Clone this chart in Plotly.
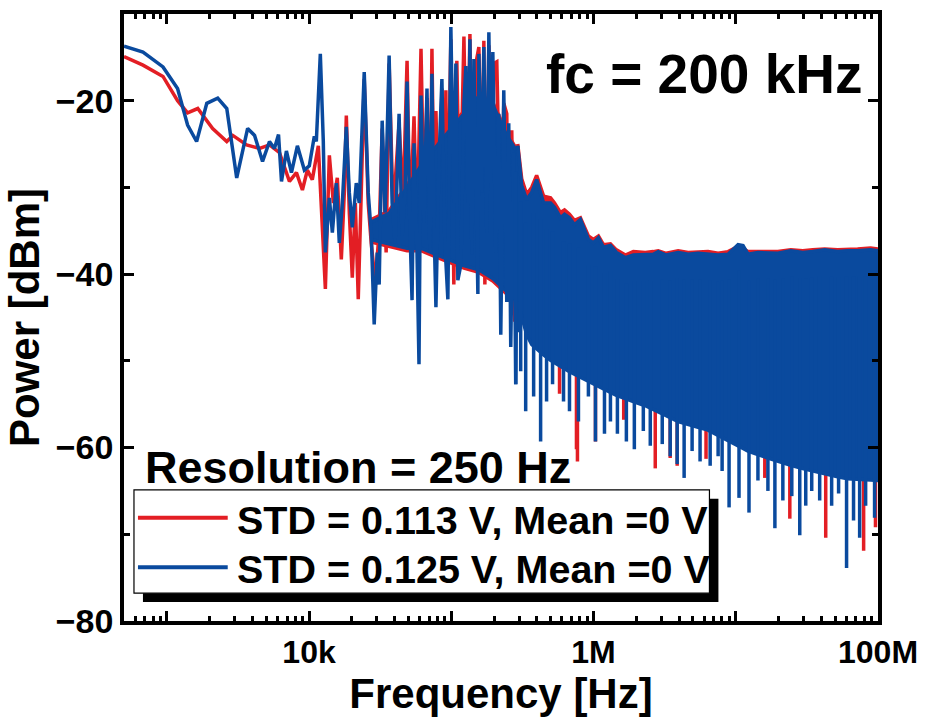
import numpy as np
import plotly.graph_objects as go

# ---------------- data ----------------
# Blue series: STD = 0.125 V, low/mid-frequency line (Hz, dBm)
blue_line_f = [500, 680, 940, 1190, 1400, 1620, 1910, 2280, 2640, 3100, 3700, 4140, 4710,
               5270, 5710, 6100, 6400, 6930, 7520, 8280, 9270, 10040, 10890, 11250,
               12000, 12590, 13020, 13890, 14580, 15560, 16320, 17140, 18280, 19190, 20140,
               21480, 22540, 24430, 26060, 27350, 28710, 30130, 31120, 32660, 34280, 36560,
               38370, 40270, 42950, 45080, 47320, 48870, 51290, 52970, 54700, 57410, 59290,
               61240, 64270, 67450, 70790, 73110, 75510, 77980, 81840, 85900, 90160, 94620,
               99300, 104200, 107700, 111200, 116900, 122700, 126700, 130900, 135200, 139600,
               144200, 148900, 153800, 156300, 164100, 169400, 177800, 183700, 189700, 195900,
               205600, 215800, 222800, 233900, 245500, 253500, 261800, 274800, 283800, 293100,
               302700]
blue_line_p = [-13.7, -14.4, -16.1, -18.6, -22.8, -24.7, -20.3, -19.7, -20.9, -28.9, -23.2, -24.0, -27.0,
               -24.7, -25.5, -23.9, -29.3, -25.8, -28.3, -25.2, -28.0, -27.5, -24.1, -24.7,
               -14.6, -24.6, -37.5, -31.2, -35.2, -29.5, -36.4, -31.8, -23.0, -30.6, -34.6,
               -29.5, -31.8, -16.7, -30.6, -35.2, -45.8, -37.5, -41.2, -22.3, -32.9, -14.8,
               -31.8, -36.4, -21.5, -35.6, -30.6, -17.8, -35.2, -43.0, -24.9, -37.5, -50.4,
               -19.4, -34.1, -18.6, -37.5, -16.9, -34.1, -43.8, -27.2, -17.5, -36.4, -42.9,
               -11.5, -31.8, -15.7, -40.7, -38.9, -20.3, -16.0, -31.8, -12.9, -37.7,
               -15.2, -31.8, -42.3, -14.6, -30.6, -13.8, -35.2, -12.1, -29.5, -14.4,
               -37.5, -21.5, -47.0, -18.8, -43.2, -22.6, -48.4, -26.0, -52.7, -25.2,
               -46.7]

# Blue dense core between 27 kHz and 290 kHz (upper / lower edge of the solid part)
blue_core_f = [27350, 36560, 48870, 61240, 85900, 122700, 156300, 195900, 245500, 293100]
blue_core_top = [-34.0, -33.0, -30.0, -27.5, -24.5, -21.5, -19.5, -20.5, -24.0, -26.0]
blue_core_low = [-36.0, -36.5, -37.0, -37.0, -38.0, -39.0, -39.5, -40.5, -42.0, -43.2]

# Blue dense band above ~290 kHz: upper envelope and solid lower edge
blue_band_f = [293100, 312600, 338800, 367300, 398100, 445700, 498900, 532100, 586100, 625200,
               677600, 734500, 809100, 863000, 920500, 997700, 1.083e6, 1.175e6, 1.315e6, 1.449e6,
               1.675e6, 1.905e6, 2.312e6, 2.630e6, 2.851e6, 3.243e6, 3.936e6, 4.624e6, 5.433e6,
               6.383e6, 7.516e6, 8.831e6, 1.038e7, 1.125e7, 1.219e7, 1.432e7, 1.683e7, 1.977e7,
               2.438e7, 2.958e7, 3.475e7, 4.217e7, 5.200e7, 6.109e7, 7.194e7, 8.872e7, 1e8]
blue_band_top = [-25.2, -29.8, -31.4, -30.6, -29.1, -31.8, -31.8, -32.3, -33.5, -33.1,
                 -33.5, -34.3, -33.7, -35.0, -36.0, -36.4, -35.8, -36.9, -36.7, -37.5,
                 -38.1, -37.8, -37.8, -37.7, -37.4, -37.8, -37.5, -37.7, -37.6,
                 -37.7, -37.8, -37.7, -36.6, -36.7, -37.7, -37.5, -37.5, -37.6,
                 -37.3, -37.5, -37.4, -37.2, -37.4, -37.3, -37.3, -37.2, -37.3]
blue_band_low_f = [293100, 349900, 483100, 666800, 920500, 1.496e6, 2.427e6, 3.936e6, 6.714e6,
                   1.219e7, 1.977e7, 3.365e7, 6.109e7, 1e8]
blue_band_low = [-43.2, -47.8, -49.8, -51.2, -52.4, -54.1, -55.3, -57.0, -58.1,
                 -60.4, -61.6, -62.7, -63.6, -63.8]
# Blue deep dips below the band
blue_dip_f = [283800, 307600, 333400, 379300, 424600, 467700, 515200, 615200, 677600, 783400,
              920500, 1.032e6, 1.194e6, 1.315e6, 1.472e6, 1.702e6, 1.936e6, 2.239e6, 2.506e6,
              3.041e6, 3.459e6, 3.873e6, 4.335e6, 4.932e6, 5.610e6, 6.607e6, 7.516e6, 8.017e6,
              8.974e6, 1.054e7, 1.239e7, 1.432e7, 1.683e7, 1.884e7, 2.143e7, 2.477e7, 2.818e7,
              3.105e7, 3.420e7, 3.890e7, 4.721e7, 5.284e7, 6.012e7, 6.730e7, 7.430e7, 8.185e7,
              9.462e7]
blue_dip_p = [-52.7, -51.2, -55.8, -54.1, -59.3, -54.7, -52.7, -54.7, -55.8, -57.0,
              -54.1, -59.3, -58.4, -57.0, -58.4, -59.3, -60.2, -58.1, -59.8,
              -59.6, -61.0, -61.9, -63.5, -60.4, -61.6, -62.1, -61.0, -62.7,
              -66.9, -65.8, -67.5, -63.8, -65.0, -69.3, -66.1, -65.6, -70.1,
              -66.7, -65.0, -66.1, -66.7, -65.3, -73.9, -68.4, -70.4, -66.7,
              -68.1]

# Red series: STD = 0.113 V
red_line_f = [500, 680, 940, 1190, 1400, 1650, 2100, 2640, 2910, 3640, 4490, 5270, 6200, 7280,
              8150, 8980, 9730, 10540, 11620, 12190, 13020, 13890, 14820, 15800, 16860, 17700,
              18280, 19190, 20140, 21150, 22180, 23280, 24430, 26060, 27350, 29170, 31120,
              32660, 34830, 36560, 38990, 42950, 45810, 48870, 51290, 54700, 57410, 61240,
              64270, 67450, 70790, 73110, 75510, 77980, 81840, 85900, 88720, 91620, 93110,
              99300, 104200, 109400, 114800, 122700, 128800, 135200, 141900, 148900, 156300,
              164100, 169400, 172200, 183700, 192800, 199100, 208900, 222800, 233900, 245500,
              253500, 266100, 279300, 293100]
red_line_p = [-14.9, -15.9, -17.2, -20.0, -21.4, -20.9, -23.2, -24.7, -24.0, -25.1, -25.5, -25.1, -26.0, -29.3,
              -28.3, -30.3, -28.0, -29.1, -25.2, -31.8, -41.7, -26.3, -31.8, -28.9, -38.3, -30.6,
              -21.7, -32.9, -40.4, -31.8, -42.9, -30.6, -17.5, -31.8, -36.4, -40.9, -35.2,
              -23.2, -37.5, -15.7, -32.9, -22.6, -31.8, -15.4, -34.1, -21.8, -35.2, -14.0,
              -31.8, -19.7, -35.2, -14.0, -31.8, -21.2, -35.2, -18.6, -36.4, -18.8, -38.4,
              -12.9, -41.2, -15.4, -34.1, -12.6, -31.8, -12.3, -35.2, -15.7, -13.8,
              -31.8, -13.1, -41.2, -13.6, -38.4, -15.7, -15.5, -37.5, -20.3, -21.5,
              -43.2, -23.4, -45.5, -26.0]
red_core_f = blue_core_f
red_core_top = [-33.7, -32.7, -29.7, -27.2, -24.2, -21.2, -19.2, -20.2, -23.7, -25.8]
red_core_low = [-36.3, -36.8, -37.3, -37.3, -38.3, -39.3, -39.8, -40.8, -42.3, -43.0]
red_band_f = blue_band_f
red_band_top = [-25.0, -29.0, -30.8, -30.0, -28.6, -31.0, -31.2, -31.8, -32.9, -32.6,
                -33.1, -33.8, -33.5, -34.6, -35.6, -36.0, -35.6, -36.6, -36.5, -37.2,
                -37.8, -37.4, -37.5, -37.4, -37.3, -37.6, -37.3, -37.5, -37.5,
                -37.4, -37.6, -37.4, -36.8, -37.0, -37.4, -37.4, -37.3, -37.4,
                -37.2, -37.3, -37.2, -37.1, -37.2, -37.1, -37.1, -37.0, -37.1]
red_band_low_f = blue_band_low_f
red_band_low = [-43.0, -47.5, -49.5, -51.0, -52.2, -53.9, -55.0, -56.8, -57.9,
                -60.2, -61.4, -62.5, -63.4, -63.6]
red_dip_f = [576800, 758600, 770900, 1.032e6, 1.63e6, 2.716e6, 3.459e6, 3.873e6, 6.18e6,
             1.60e7, 2.399e7, 4.29e7, 7.925e7, 9.6e7]
red_dip_p = [-53.8, -60.2, -61.6, -59.3, -56.8, -62.4, -61.2, -62.1, -61.3,
             -63.5, -68.2, -70.4, -71.9, -69.2]

series_names = ["STD = 0.113 V, Mean =0 V", "STD = 0.125 V, Mean =0 V"]
x_tick_vals = [1e3, 1e4, 1e5, 1e6, 1e7, 1e8]
x_tick_text = ["", "10k", "", "1M", "", "100M"]
y_tick_vals = [-80, -60, -40, -20]
y_minor_vals = [-70, -50, -30]

RED = "#E31E24"
BLUE = "#0A4A9E"
FONT = "Liberation Sans, Arial, sans-serif"
LW = 3.5


def add_fill(fig, color, f_top, top, f_low, low):
    lf = np.log10(f_top)
    bottom = np.interp(lf, np.log10(f_low), low)
    fig.add_trace(go.Scatter(x=list(f_top) + list(f_top)[::-1],
                             y=list(top) + list(bottom)[::-1],
                             mode="lines", fill="toself", fillcolor=color,
                             line=dict(color=color, width=LW), showlegend=False,
                             hoverinfo="skip"))


def add_series(fig, color, line_f, line_p, core_f, core_top, core_low,
               band_f, band_top, low_f, low_p, dip_f, dip_p):
    add_fill(fig, color, core_f, core_top, core_f, core_low)
    fig.add_trace(go.Scatter(x=line_f, y=line_p, mode="lines",
                             line=dict(color=color, width=LW), showlegend=False,
                             hoverinfo="skip"))
    add_fill(fig, color, band_f, band_top, low_f, low_p)
    top_at_dip = np.interp(np.log10(dip_f), np.log10(band_f), band_top)
    xs, ys = [], []
    for f, t, d in zip(dip_f, top_at_dip, dip_p):
        xs += [f, f, None]
        ys += [t - 3, d, None]
    fig.add_trace(go.Scatter(x=xs, y=ys, mode="lines",
                             line=dict(color=color, width=LW), showlegend=False,
                             hoverinfo="skip", connectgaps=False))


fig = go.Figure()
add_series(fig, RED, red_line_f, red_line_p, red_core_f, red_core_top, red_core_low,
           red_band_f, red_band_top, red_band_low_f, red_band_low, red_dip_f, red_dip_p)
add_series(fig, BLUE, blue_line_f, blue_line_p, blue_core_f, blue_core_top, blue_core_low,
           blue_band_f, blue_band_top, blue_band_low_f, blue_band_low, blue_dip_f, blue_dip_p)

x_minor = [k * 10 ** e for e in range(2, 8) for k in range(2, 10) if 500 < k * 10 ** e < 1e8]

axis_common = dict(showline=True, linewidth=3.5, linecolor="black", mirror="ticks",
                   ticks="inside", ticklen=10, tickwidth=3, tickcolor="black",
                   showgrid=False, zeroline=False)

fig.update_layout(
    width=928, height=718,
    margin=dict(l=124, r=48, t=10, b=97),
    paper_bgcolor="white", plot_bgcolor="white",
    font=dict(family=FONT, color="black"),
    showlegend=False,
    xaxis=dict(type="log", range=[np.log10(500), 8],
               tickvals=x_tick_vals, ticktext=x_tick_text,
               tickfont=dict(size=32, family=FONT, weight="bold"),
               minor=dict(tickvals=x_minor, ticks="inside", ticklen=5, tickwidth=2.5,
                          tickcolor="black", showgrid=False),
               title=dict(text="Frequency [Hz]", font=dict(size=42, family=FONT, weight="bold"),
                          standoff=6),
               **axis_common),
    yaxis=dict(range=[-80, -10], tickvals=y_tick_vals,
               tickfont=dict(size=34, family=FONT, weight="bold"),
               minor=dict(tickvals=y_minor_vals, ticks="inside", ticklen=6, tickwidth=2.5,
                          tickcolor="black", showgrid=False),
               title=dict(text="Power [dBm]", font=dict(size=42, family=FONT, weight="bold"),
                          standoff=4),
               **axis_common),
)


def xp(px):
    return (px - 124) / 756.0


def yp(py):
    return (621 - py) / 611.0


# legend box with shadow
fig.add_shape(type="rect", xref="paper", yref="paper", x0=xp(143), x1=xp(720), y0=yp(602), y1=yp(498),
              fillcolor="black", line=dict(width=0), layer="above")
fig.add_shape(type="rect", xref="paper", yref="paper", x0=xp(134), x1=xp(711), y0=yp(593), y1=yp(489),
              fillcolor="white", line=dict(color="black", width=1.2), layer="above")
for py_line, col in [(517, RED), (567, BLUE)]:
    fig.add_shape(type="line", xref="paper", yref="paper", x0=xp(138), x1=xp(228),
                  y0=yp(py_line), y1=yp(py_line), line=dict(color=col, width=4), layer="above")
for py_text, name in [(517, series_names[0]), (567, series_names[1])]:
    fig.add_annotation(xref="paper", yref="paper", x=xp(235), y=yp(py_text + 2),
                       xanchor="left", yanchor="middle", text=name, showarrow=False,
                       font=dict(size=39.5, family=FONT, weight="bold", color="black"))

fig.add_annotation(xref="paper", yref="paper", x=xp(143), y=yp(466), xanchor="left", yanchor="middle",
                   text="Resolution = 250 Hz", showarrow=False,
                   font=dict(size=45, family=FONT, weight="bold", color="black"))
fig.add_annotation(xref="paper", yref="paper", x=xp(545), y=yp(70), xanchor="left", yanchor="middle",
                   text="fc = 200 kHz", showarrow=False,
                   font=dict(size=55, family=FONT, weight="bold", color="black"))

fig.write_html("out.html")
